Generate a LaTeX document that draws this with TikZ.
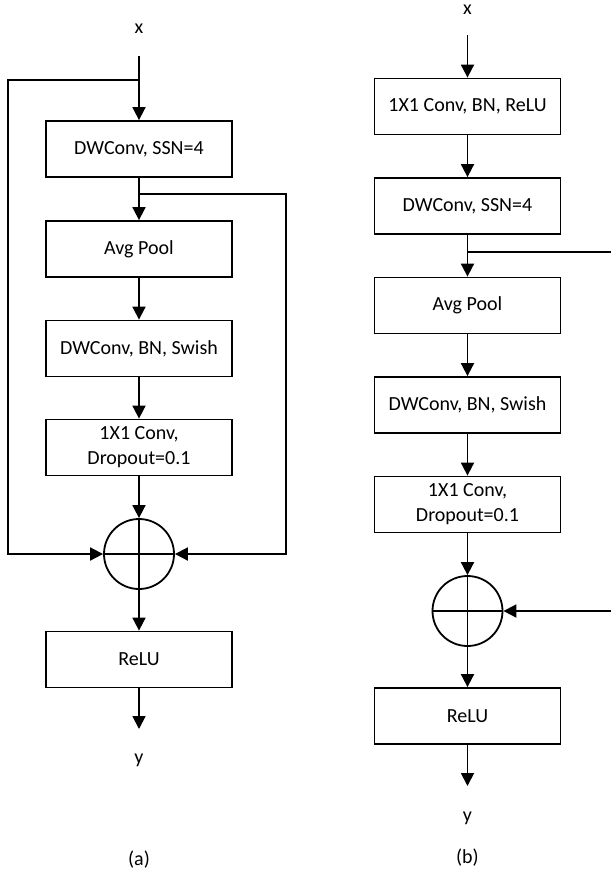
\documentclass[tikz,border=0pt]{standalone}
\usepackage{fontspec}
\setmainfont{Carlito}
\usetikzlibrary{arrows.meta}
\tikzset{
  blk/.style={draw, line width=1.8pt, minimum width=186pt, minimum height=56pt,
    inner sep=0pt, align=center, font=\fontsize{20}{25}\selectfont},
  lbl/.style={inner sep=0pt, font=\fontsize{20}{25}\selectfont},
  sumnode/.style={draw, circle, line width=1.8pt, minimum size=70pt, inner sep=0pt,
    path picture={\draw[line width=1.3pt]
      (path picture bounding box.north) -- (path picture bounding box.south)
      (path picture bounding box.west) -- (path picture bounding box.east);}},
  wire/.style={line width=1.8pt},
  arr/.style={wire, -{Triangle[length=13pt,width=13pt]}}
}
\begin{document}
\begin{tikzpicture}[x=1pt,y=-1pt]
\fill[white] (0,0) rectangle (611,873);
\useasboundingbox (0,0) rectangle (611,873);

% ---------- (a) ----------
\node[lbl] (xa) at (139,29) {x};
\coordinate (ina) at (139,56);
\coordinate (spa) at (139,80);
\coordinate (la) at (8,80);
\node[blk] (a1) at (139,149) {DWConv, SSN=4};
\coordinate (bra) at (139,194);
\coordinate (ra) at (286,194);
\node[blk] (a2) at (139,249) {Avg Pool};
\node[blk] (a3) at (139,348.5) {DWConv, BN, Swish};
\node[blk] (a4) at (139,447.5) {1X1 Conv,\\Dropout=0.1};
\node[sumnode] (sa) at (139,554) {};
\node[blk] (a5) at (139,659.5) {ReLU};
\coordinate (outa) at (139,729);
\node[lbl] (ya) at (139,760) {y};
\node[lbl] (capa) at (139,860) {(a)};

\draw[arr] (ina) -- (a1.north);
\draw[arr] (a1.south) -- (a2.north);
\draw[arr] (a2.south) -- (a3.north);
\draw[arr] (a3.south) -- (a4.north);
\draw[arr] (a4.south) -- (sa.north);
\draw[arr] (sa.south) -- (a5.north);
\draw[arr] (a5.south) -- (outa);
\draw[arr] (spa) -- (la) |- (sa.west);
\draw[arr] (bra) -- (ra) |- (sa.east);

% ---------- (b) ----------
\node[lbl] (xb) at (467.5,10) {x};
\coordinate (inb) at (467.5,35);
\node[blk] (b1) at (467.5,106.5) {1X1 Conv, BN, ReLU};
\node[blk] (b2) at (467.5,206) {DWConv, SSN=4};
\coordinate (brb) at (467.5,252);
\coordinate (rb) at (611,252);
\node[blk] (b3) at (467.5,305.5) {Avg Pool};
\node[blk] (b4) at (467.5,405) {DWConv, BN, Swish};
\node[blk] (b5) at (467.5,504.5) {1X1 Conv,\\Dropout=0.1};
\node[sumnode] (sb) at (467.5,611) {};
\coordinate (rsb) at (611,611);
\node[blk] (b6) at (467.5,716) {ReLU};
\coordinate (outb) at (467.5,786);
\node[lbl] (yb) at (467.5,818) {y};
\node[lbl] (capb) at (467.5,858) {(b)};

\draw[arr] (inb) -- (b1.north);
\draw[arr] (b1.south) -- (b2.north);
\draw[arr] (b2.south) -- (b3.north);
\draw[arr] (b3.south) -- (b4.north);
\draw[arr] (b4.south) -- (b5.north);
\draw[arr] (b5.south) -- (sb.north);
\draw[arr] (sb.south) -- (b6.north);
\draw[arr] (b6.south) -- (outb);
\draw[wire] (brb) -- (rb);
\draw[arr] (rsb) -- (sb.east);
\end{tikzpicture}
\end{document}
